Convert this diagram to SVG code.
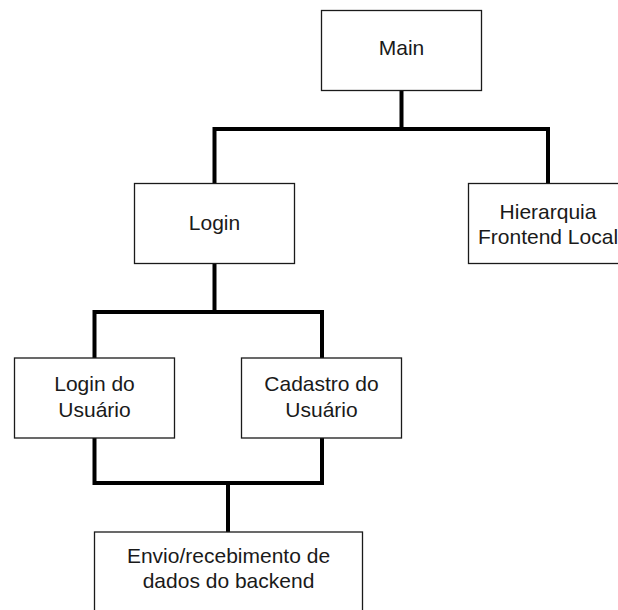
<svg xmlns="http://www.w3.org/2000/svg" width="618" height="610" viewBox="0 0 618 610">
  <style>
    .box { fill: #ffffff; stroke: #1a1a1a; stroke-width: 1.3; }
    .lbl { font-family: "Liberation Sans", Arial, Helvetica, sans-serif; font-size: 21px; fill: #1a1a1a; text-anchor: middle; }
    .edge { fill: none; stroke: #000000; stroke-width: 4; stroke-linejoin: miter; stroke-linecap: butt; }
  </style>
  <rect width="618" height="610" fill="#ffffff"/>

  <!-- tree connectors -->
  <g id="connectors">
    <path class="edge" d="M401.5 90 V129 H214.5 V183"/>
    <path class="edge" d="M401.5 129 H548 V183"/>
    <path class="edge" d="M214.5 263 V312 H94.5 V358"/>
    <path class="edge" d="M214.5 312 H322 V358"/>
    <path class="edge" d="M94.5 438 V483 H322 V438"/>
    <path class="edge" d="M228 483 V532"/>
  </g>

  <g id="main">
    <rect class="box" x="321.5" y="10.5" width="160" height="80"/>
    <text class="lbl" x="401.5" y="55">Main</text>
  </g>

  <g id="login">
    <rect class="box" x="134.5" y="183.5" width="160" height="80"/>
    <text class="lbl" x="214.5" y="230">Login</text>
  </g>

  <g id="hierarquia">
    <rect class="box" x="468.5" y="183.5" width="160" height="80"/>
    <text class="lbl" x="548" y="219">Hierarquia</text>
    <text class="lbl" x="548" y="244">Frontend Local</text>
  </g>

  <g id="login-usuario">
    <rect class="box" x="14.5" y="358" width="160" height="80"/>
    <text class="lbl" x="94.5" y="391">Login do</text>
    <text class="lbl" x="94.5" y="417">Usuário</text>
  </g>

  <g id="cadastro-usuario">
    <rect class="box" x="241.5" y="358" width="160" height="80"/>
    <text class="lbl" x="321.5" y="391">Cadastro do</text>
    <text class="lbl" x="321.5" y="417">Usuário</text>
  </g>

  <g id="backend">
    <rect class="box" x="94.5" y="532" width="268" height="100"/>
    <text class="lbl" x="228.5" y="563">Envio/recebimento de</text>
    <text class="lbl" x="228.5" y="588">dados do backend</text>
  </g>
</svg>
